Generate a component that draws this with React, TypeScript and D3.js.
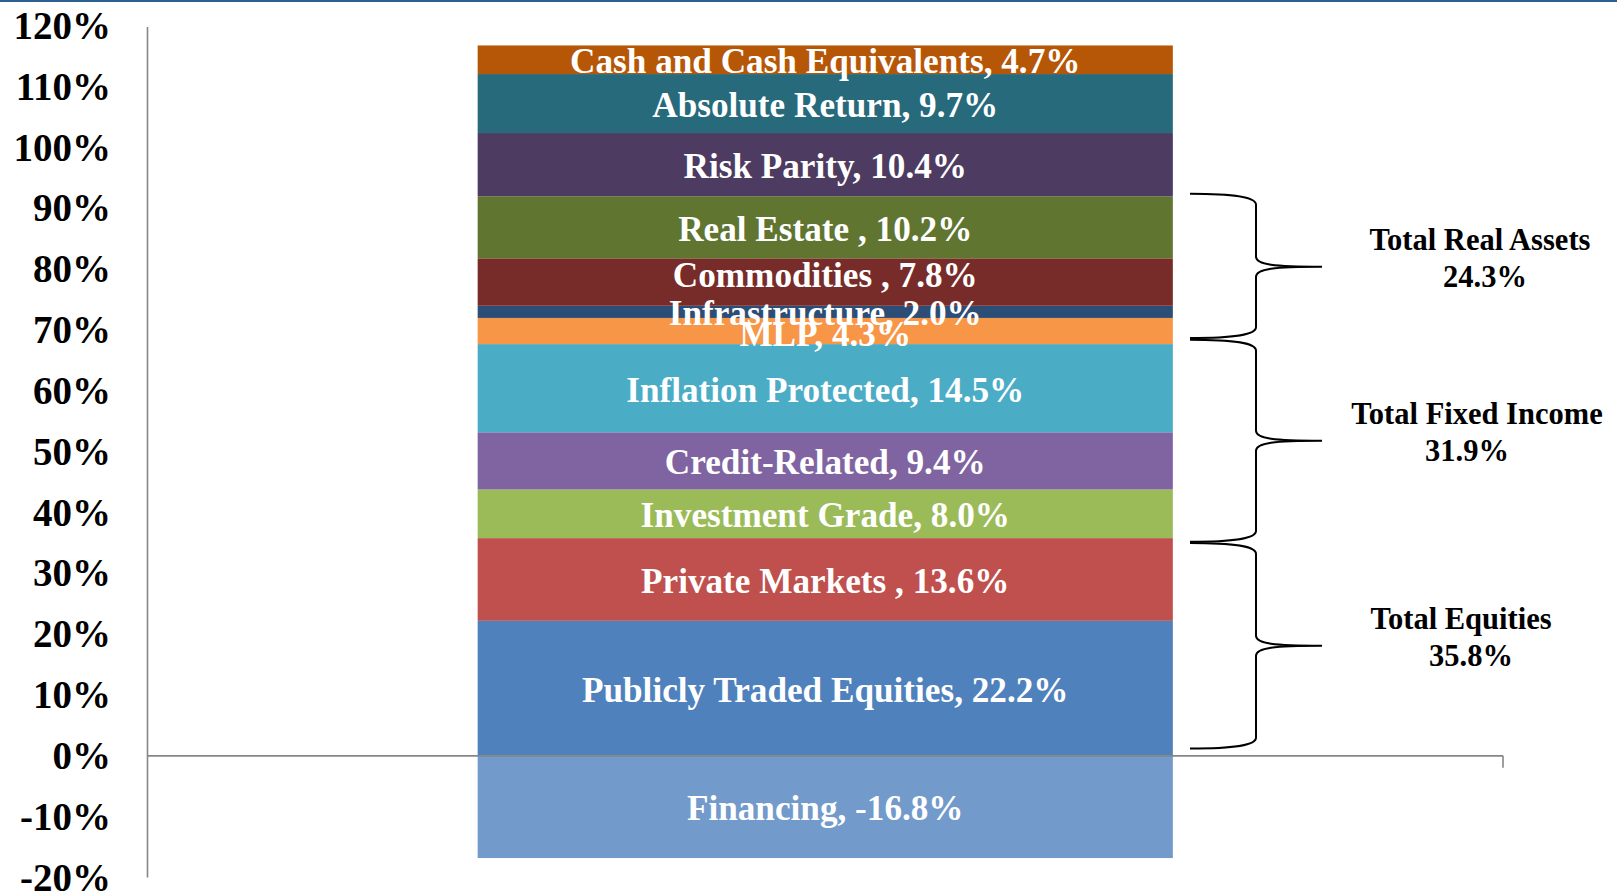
import React from "react";
import * as d3 from "d3";

// ---- data ----
const categories = ["Fund"];
const assetNames = [
  "Financing",
  "Publicly Traded Equities",
  "Private Markets ",
  "Investment Grade",
  "Credit-Related",
  "Inflation Protected",
  "MLP",
  "Infrastructure",
  "Commodities ",
  "Real Estate ",
  "Risk Parity",
  "Absolute Return",
  "Cash and Cash Equivalents",
];
const assetValues = [-16.8, 22.2, 13.6, 8.0, 9.4, 14.5, 4.3, 2.0, 7.8, 10.2, 10.4, 9.7, 4.7];
const assetColors = [
  "#729ACA",
  "#4F81BD",
  "#C0504D",
  "#9BBB59",
  "#8064A2",
  "#4BACC6",
  "#F79646",
  "#2C4D75",
  "#772C2A",
  "#5F7530",
  "#4D3B62",
  "#276A7C",
  "#B65708",
];
const yTicks = [-20, -10, 0, 10, 20, 30, 40, 50, 60, 70, 80, 90, 100, 110, 120];

const groupNames = ["Total Equities", "Total Fixed Income", "Total Real Assets"];
const groupTotals = [35.8, 31.9, 24.3];
const braceTop = [35.0, 68.4, 92.4];
const braceTip = [18.1, 51.8, 80.4];
const braceBottom = [1.2, 35.2, 68.7];

// ---- layout ----
const W = 1617;
const H = 895;
const AXIS_X0 = 147.5;
const AXIS_X1 = 1503;
const FONT = "'Liberation Serif', 'Times New Roman', Times, serif";
const labelNudge: Record<string, number> = { "Commodities ": -9, MLP: 1 };
const groupLineX = [
  [1461, 1471],
  [1477, 1467],
  [1480, 1485],
];

function bracePath(x0: number, xv: number, xt: number, yT: number, yM: number, yB: number) {
  return [
    `M${x0},${yT}`,
    `C${x0 + 45},${yT} ${xv},${yT + 3} ${xv},${yT + 11}`,
    `L${xv},${yM - 10}`,
    `C${xv},${yM - 2} ${xv + 18},${yM} ${xt},${yM}`,
    `M${xt},${yM}`,
    `C${xv + 18},${yM} ${xv},${yM + 2} ${xv},${yM + 10}`,
    `L${xv},${yB - 11}`,
    `C${xv},${yB - 3} ${x0 + 45},${yB} ${x0},${yB}`,
  ].join(" ");
}

export default function App() {
  const y = d3.scaleLinear().domain([-20, 120]).range([877.5, 26]);
  const x = d3.scaleBand<string>().domain(categories).range([AXIS_X0, AXIS_X1]).padding(0.322);

  const row: Record<string, number> = {};
  assetNames.forEach((n, i) => (row[n] = assetValues[i]));
  const series = d3
    .stack<Record<string, number>>()
    .keys(assetNames)
    .offset(d3.stackOffsetDiverging)([row]);

  const bx = x(categories[0])!;
  const bw = x.bandwidth();
  const cx = bx + bw / 2;

  return (
    <svg
      width={W}
      height={H}
      style={{ position: "absolute", left: 0, top: 0, display: "block", background: "#fff" }}
    >
      <rect x={0} y={0} width={W} height={2} fill="#2E5F91" />

      {/* bars */}
      {series.map((s, i) => {
        const d = s[0];
        const y0 = y(Math.max(d[0], d[1]));
        const y1 = y(Math.min(d[0], d[1]));
        return (
          <rect key={s.key} x={bx} y={y0} width={bw} height={y1 - y0} fill={assetColors[i]} />
        );
      })}

      {/* axes */}
      <line x1={AXIS_X0} x2={AXIS_X0} y1={y(120) + 1} y2={y(-20)} stroke="#868686" strokeWidth={1.6} />
      <line x1={AXIS_X0} x2={AXIS_X1} y1={y(0)} y2={y(0)} stroke="#868686" strokeWidth={1.6} />
      <line x1={AXIS_X1} x2={AXIS_X1} y1={y(0)} y2={y(0) + 12} stroke="#868686" strokeWidth={1.6} />

      {yTicks.map((t) => (
        <text
          key={t}
          x={111}
          y={y(t) + 13}
          textAnchor="end"
          fontFamily={FONT}
          fontWeight="bold"
          fontSize={39}
          fill="#000"
        >
          {`${t}%`}
        </text>
      ))}

      {/* segment labels */}
      {series.map((s, i) => {
        const d = s[0];
        const mid = (y(d[0]) + y(d[1])) / 2;
        const name = assetNames[i];
        return (
          <text
            key={"l" + s.key}
            x={cx}
            y={mid + 13.5 + (labelNudge[name] || 0)}
            textAnchor="middle"
            fontFamily={FONT}
            fontWeight="bold"
            fontSize={35.2}
            fill="#fff"
          >
            {`${name}, ${assetValues[i].toFixed(1)}%`}
          </text>
        );
      })}

      {/* braces */}
      {groupNames.map((g, i) => {
        const yT = y(braceTop[i]);
        const yM = y(braceTip[i]);
        const yB = y(braceBottom[i]);
        const textMid = yM - 8;
        return (
          <g key={g}>
            <path
              d={bracePath(1190, 1256, 1322, yT, yM, yB)}
              fill="none"
              stroke="#000"
              strokeWidth={2}
            />
            <text
              x={groupLineX[i][0]}
              y={textMid - 18.5 + 10}
              textAnchor="middle"
              fontFamily={FONT}
              fontWeight="bold"
              fontSize={30.5}
              fill="#000"
            >
              {g}
            </text>
            <text
              x={groupLineX[i][1]}
              y={textMid + 18.5 + 10}
              textAnchor="middle"
              fontFamily={FONT}
              fontWeight="bold"
              fontSize={30.5}
              fill="#000"
            >
              {`${groupTotals[i].toFixed(1)}%`}
            </text>
          </g>
        );
      })}
    </svg>
  );
}
